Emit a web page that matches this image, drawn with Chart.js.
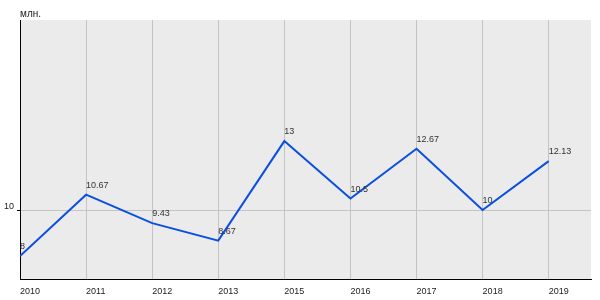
<!DOCTYPE html>
<html><head><meta charset="utf-8">
<script src="https://cdn.jsdelivr.net/npm/chart.js@4/dist/chart.umd.min.js"></script>
<style>html,body{margin:0;padding:0;background:#fff}#wrap{width:600px;height:300px}</style>
</head><body><div id="wrap"><canvas id="c" width="600" height="300"></canvas></div>
<script>
const categories = ['2010','2011','2012','2013','2015','2016','2017','2018','2019'];
const values = [8, 10.67, 9.43, 8.67, 13, 10.5, 12.67, 10, 12.13];
const yTicks = [10];
const unitLabel = 'млн.';
const FONT = "'Liberation Sans', Arial, sans-serif";

const plotBg = {
  id: 'plotBg',
  beforeDraw(chart) {
    const {ctx, chartArea: a} = chart;
    ctx.save(); ctx.fillStyle = '#ebebeb';
    ctx.fillRect(a.left, a.top, a.right - a.left, a.bottom - a.top);
    ctx.restore();
  },
  afterDraw(chart) {
    const {ctx} = chart;
    ctx.save();
    ctx.font = '10px ' + FONT; ctx.fillStyle = '#222';
    ctx.textBaseline = 'alphabetic'; ctx.textAlign = 'left';
    ctx.fillText(unitLabel, 20, 16.5);
    const meta = chart.getDatasetMeta(0);
    ctx.font = '9px ' + FONT;
    ctx.fillStyle = '#333';
    meta.data.forEach((p, i) => {
      ctx.fillText(String(values[i]), p.x, p.y - 7);
    });
    ctx.restore();
  }
};

new Chart(document.getElementById('c'), {
  type: 'line',
  data: {
    datasets: [{
      data: values.map((v, i) => ({x: i, y: v})),
      borderColor: '#0a4fe0', borderWidth: 2, pointRadius: 0, tension: 0, fill: false
    }]
  },
  options: {
    responsive: false, animation: false,
    layout: {padding: {top: 20, right: 9, left: 0, bottom: 0}},
    plugins: {legend: {display: false}, tooltip: {enabled: false}},
    scales: {
      x: {
        type: 'linear', min: 0, max: 8.64,
        afterBuildTicks: s => { s.ticks = categories.map((c, i) => ({value: i})); },
        afterFit: s => { s.height = 21; },
        ticks: {callback: v => categories[v], maxRotation: 0, autoSkip: false, padding: 7, align: 'start',
                font: {family: FONT, size: 9}, color: '#222'},
        grid: {color: '#c4c4c4', lineWidth: 1, drawTicks: false},
        border: {color: '#000', width: 1}
      },
      y: {
        min: 7, max: 18.27,
        afterBuildTicks: s => { s.ticks = yTicks.map(v => ({value: v})); },
        afterFit: s => { s.width = 20; },
        ticks: {padding: 3, labelOffset: -4, font: {family: FONT, size: 9}, color: '#222'},
        grid: {color: '#c4c4c4', lineWidth: 1, drawTicks: true, tickLength: 3, tickColor: '#000'},
        border: {color: '#000', width: 1}
      }
    }
  },
  plugins: [plotBg]
});
</script></body></html>
